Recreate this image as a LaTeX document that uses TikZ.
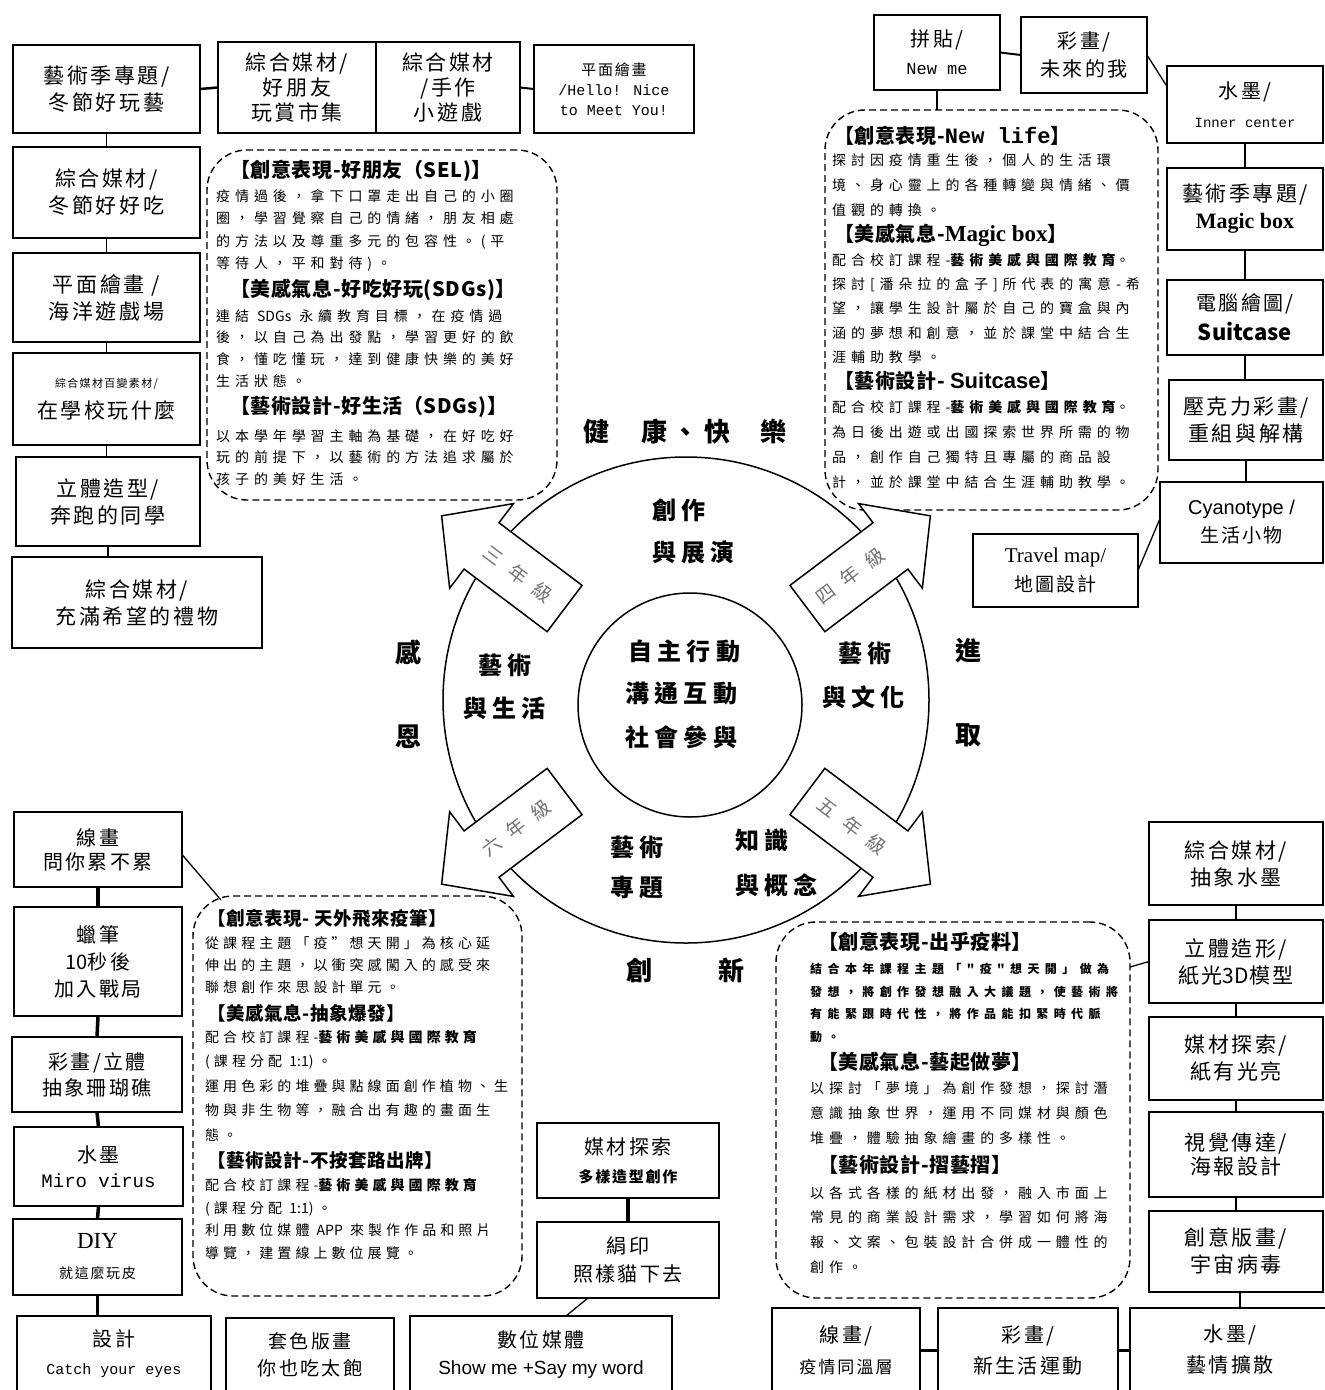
\documentclass[tikz,border=0pt]{standalone}
\usepackage{fontspec}
\setmainfont{Noto Sans CJK TC}
\newfontfamily\boxfnt[LetterSpace=12]{Noto Sans CJK TC}
\newfontfamily\bodyfnt[LetterSpace=35]{Noto Sans CJK TC}
\newfontfamily\bodyfntb[LetterSpace=29]{Noto Sans CJK TC}
\newfontfamily\sbodyfnt[LetterSpace=45]{Noto Sans CJK TC}
\newfontfamily\headfnt[LetterSpace=3]{Noto Sans CJK TC}
\newfontfamily\ringfnt[LetterSpace=22]{Noto Sans CJK TC}
\newfontfamily\gradefnt[LetterSpace=60]{Noto Sans CJK TC}
\newfontfamily\monofnt{Liberation Mono}
\newfontfamily\seriffnt{Liberation Serif}
\newfontfamily\sansfnt{Liberation Sans}
\newcommand\fsz[2]{\fontsize{#1}{#2}\selectfont}
\newcommand\lat[1]{{\rmfamily #1}}
\usetikzlibrary{calc}
\tikzset{
  box/.style={draw, line width=1.5pt, fill=white, inner sep=1pt, outer sep=0pt, align=center, font={\boxfnt\fsz{21}{27}}},
  dbox/.style={draw, line width=1.4pt, dash pattern=on 7pt off 4pt, rounded corners=40pt, inner sep=0pt, outer sep=0pt},
  conn/.style={line width=1.3pt},
  tconn/.style={line width=3.5pt},
  body/.style={anchor=north west, align=left, inner sep=0pt, font={\bodyfnt\fsz{14}{#1}}},
  body/.default=22.5,
  bodyb/.style={anchor=north west, align=left, inner sep=0pt, font={\bodyfntb\fsz{14}{#1}}},
  sbody/.style={anchor=north west, align=left, inner sep=0pt, font={\sbodyfnt\bfseries\fsz{12}{#1}}},
  head/.style={anchor=west, inner sep=0pt, font={\headfnt\bfseries\fsz{20}{24}}},
  bhead/.style={anchor=west, inner sep=0pt, font={\headfnt\bfseries\fsz{18.5}{22}}},
  ringlbl/.style={anchor=west, inner sep=0pt, font={\ringfnt\bfseries\fsz{24}{30}}},
  big/.style={inner sep=0pt, font={\ringfnt\bfseries\fsz{26}{30}}},
  grade/.style={inner sep=0pt, font={\gradefnt\fsz{19}{24}}, text=black!55},
  ringline/.style={line width=1.5pt},
  arrowshape/.style={draw, line width=1.5pt, fill=white, line join=miter},
}
\begin{document}
\begin{tikzpicture}[x=1pt,y=-1pt]
\useasboundingbox (0,0) rectangle (1325,1390);
\fill[white] (0,0) rectangle (1325,1390);

% ---------- top row boxes ----------
\node[box, minimum width=187pt, minimum height=88pt] (A1) at (106.5,89) {藝術季專題/\\冬節好玩藝};
\node[box, minimum width=158pt, minimum height=91pt, font={\boxfnt\fsz{21}{25}}] (A2) at (297,87.5) {綜合媒材/\\好朋友\\玩賞市集};
\node[box, minimum width=144pt, minimum height=91pt, font={\boxfnt\fsz{21}{25}}] (A3) at (448,87.5) {綜合媒材\\/手作\\小遊戲};
\node[box, minimum width=160pt, minimum height=88pt, font={\boxfnt\fsz{15}{20}}] (A4) at (614,89) {平面繪畫\\{\monofnt\fsz{15}{20}/Hello! Nice}\\{\monofnt\fsz{15}{20}to Meet You!}};

% ---------- left column ----------
\node[box, minimum width=187pt, minimum height=91pt] (L1) at (106.5,192.5) {綜合媒材/\\冬節好好吃};
\node[box, minimum width=187pt, minimum height=89pt] (L2) at (106.5,297.5) {平面繪畫 /\\海洋遊戲場};
\node[box, minimum width=187pt, minimum height=92pt] (L3) at (106.5,399) {{\fsz{11}{14}綜合媒材百變素材/}\\[4pt]在學校玩什麼};
\node[box, minimum width=184pt, minimum height=89pt] (L4) at (108,501.5) {立體造型/\\奔跑的同學};
\node[box, minimum width=250pt, minimum height=91pt] (L5) at (137,602.5) {綜合媒材/\\充滿希望的禮物};

% ---------- top right ----------
\node[box, minimum width=126pt, minimum height=75pt, font={\boxfnt\fsz{20}{28}}] (R1) at (937,52.5) {拼貼/\\{\monofnt\fsz{17}{28}New me}};
\node[box, minimum width=126pt, minimum height=76pt, font={\boxfnt\fsz{20}{28}}] (R2) at (1084,55) {彩畫/\\未來的我};
\node[box, minimum width=156pt, minimum height=77pt, font={\boxfnt\fsz{20}{29}}] (R3) at (1245,104.5) {水墨/\\{\monofnt\fsz{14}{29}Inner center}};
\node[box, minimum width=156pt, minimum height=82pt] (R4) at (1245,209) {藝術季專題/\\{\seriffnt\bfseries\fsz{22}{27}Magic box}};
\node[box, minimum width=156pt, minimum height=75pt, font={\boxfnt\fsz{20}{30}}] (R5) at (1245,317.5) {電腦繪圖/\\{\rmfamily\bfseries\fsz{22}{30}Suitcase}};
\node[box, minimum width=154pt, minimum height=80pt] (R6) at (1246,420) {壓克力彩畫/\\重組與解構};
\node[box, minimum width=163pt, minimum height=81pt, font={\boxfnt\fsz{19}{28}}] (R7) at (1241.5,522.5) {{\sansfnt\fsz{20}{28}Cyanotype /}\\生活小物};
\node[box, minimum width=165pt, minimum height=73pt, font={\boxfnt\fsz{19}{29}}] (R8) at (1055.5,570.5) {{\seriffnt\fsz{21}{29}Travel map/}\\地圖設計};

% ---------- bottom left column ----------
\node[box, minimum width=168pt, minimum height=75pt, font={\boxfnt\fsz{20}{24}}] (B1) at (98,849.5) {線畫\\問你累不累};
\node[box, minimum width=168pt, minimum height=109pt, font={\boxfnt\fsz{20}{27}}] (B2) at (98,961.5) {蠟筆\\\lat{10}秒後\\加入戰局};
\node[box, minimum width=170pt, minimum height=75pt, font={\boxfnt\fsz{20}{26}}] (B3) at (97,1074.5) {彩畫/立體\\抽象珊瑚礁};
\node[box, minimum width=169pt, minimum height=79pt, font={\boxfnt\fsz{20}{25}}] (B4) at (98.5,1166.5) {水墨\\{\monofnt\fsz{19}{25}Miro virus}};
\node[box, minimum width=169pt, minimum height=76pt, font={\boxfnt\fsz{14}{30}}] (B5) at (97.5,1257) {{\seriffnt\fsz{23}{30}DIY}\\就這麼玩皮};
\node[box, minimum width=194pt, minimum height=76pt, font={\boxfnt\fsz{20}{28}}] (B6) at (114,1354) {設計\\{\monofnt\fsz{15}{28}Catch your eyes}};

% ---------- bottom row ----------
\node[box, minimum width=168pt, minimum height=74pt, font={\boxfnt\fsz{19}{27}}] (C1) at (310,1355) {套色版畫\\你也吃太飽};
\node[box, minimum width=262pt, minimum height=76pt, font={\boxfnt\fsz{20}{27}}] (C2) at (541,1354) {數位媒體\\{\sansfnt\fsz{19}{27}Show me +Say my word}};
\node[box, minimum width=182pt, minimum height=75pt, font={\boxfnt\fsz{20}{28}}] (C3) at (628,1160.5) {媒材探索\\{\bfseries\fsz{15}{28}多樣造型創作}};
\node[box, minimum width=182pt, minimum height=76pt, font={\boxfnt\fsz{20}{28}}] (C4) at (628,1260) {絹印\\照樣貓下去};
\node[box, minimum width=148pt, minimum height=84pt, font={\boxfnt\fsz{20}{31}}] (D1) at (846,1350) {線畫/\\{\fsz{17}{31}疫情同溫層}};
\node[box, minimum width=180pt, minimum height=84pt, font={\boxfnt\fsz{20}{31}}] (D2) at (1028,1350) {彩畫/\\新生活運動};
\node[box, minimum width=200pt, minimum height=84pt, font={\boxfnt\fsz{20}{31}}] (D3) at (1230,1350) {水墨/\\藝情擴散};

% ---------- bottom right column ----------
\node[box, minimum width=174pt, minimum height=83pt] (E1) at (1236,863.5) {綜合媒材/\\抽象水墨};
\node[box, minimum width=174pt, minimum height=83pt] (E2) at (1236,961.5) {立體造形/\\紙光\lat{3D}模型};
\node[box, minimum width=174pt, minimum height=83pt] (E3) at (1236,1058.5) {媒材探索/\\紙有光亮};
\node[box, minimum width=174pt, minimum height=85pt, font={\boxfnt\fsz{21}{24}}] (E4) at (1236,1154.5) {視覺傳達/\\海報設計};
\node[box, minimum width=174pt, minimum height=81pt] (E5) at (1236,1251.5) {創意版畫/\\宇宙病毒};

% ---------- dashed boxes ----------
\node[dbox, minimum width=350pt, minimum height=350pt] (TL) at (382,325) {};
\node[dbox, minimum width=333pt, minimum height=400pt] (TR) at (991.5,310) {};
\node[dbox, minimum width=329pt, minimum height=400pt] (BL) at (357.5,1096) {};
\node[dbox, minimum width=354pt, minimum height=376pt] (BR) at (953,1110) {};

% TL text
\node[head] (tlh1) at (230,171) {【創意表現-好朋友（SEL)】};
\node[body] (tlb1) at (216,189) {疫情過後，拿下口罩走出自己的小圈\\圈，學習覺察自己的情緒，朋友相處\\的方法以及尊重多元的包容性。(平\\等待人，平和對待)。};
\node[head] (tlh2) at (230,290) {【美感氣息-好吃好玩(SDGs)】};
\node[body=21.7] (tlb2) at (216,309) {連結 \lat{SDGs} 永續教育目標，在疫情過\\後，以自己為出發點，學習更好的飲\\食，懂吃懂玩，達到健康快樂的美好\\生活狀態。};
\node[head] (tlh3) at (230,407) {【藝術設計-好生活（SDGs)】};
\node[body=21.5] (tlb3) at (216,429) {以本學年學習主軸為基礎，在好吃好\\玩的前提下，以藝術的方法追求屬於\\孩子的美好生活。};

% TR text
\node[head] (trh1) at (834,136) {【創意表現-{\monofnt\bfseries\fsz{22}{24}New life}】};
\node[body=25] (trb1) at (832,153) {探討因疫情重生後，個人的生活環\\境、身心靈上的各種轉變與情緒、價\\值觀的轉換。};
\node[head] (trh2) at (834,235) {【美感氣息-{\seriffnt\bfseries\fsz{23}{24}Magic box}】};
\node[body=24.2] (trb2) at (832,253) {配合校訂課程-{\bfseries 藝術美感與國際教育}。\\探討[潘朵拉的盒子]所代表的寓意-希\\望，讓學生設計屬於自己的寶盒與內\\涵的夢想和創意，並於課堂中結合生\\涯輔助教學。};
\node[head] (trh3) at (834,381) {【藝術設計- {\sansfnt\fsz{22}{24}Suitcase}】};
\node[body=25] (trb3) at (832,400) {配合校訂課程-{\bfseries 藝術美感與國際教育}。\\為日後出遊或出國探索世界所需的物\\品，創作自己獨特且專屬的商品設\\計，並於課堂中結合生涯輔助教學。};

% BL text
\node[bhead] (blh1) at (207,918) {【創意表現- 天外飛來疫筆】};
\node[bodyb=22] (blb1) at (205,936) {從課程主題「疫”想天開」為核心延\\伸出的主題，以衝突感闖入的感受來\\聯想創作來思設計單元。};
\node[bhead] (blh2) at (207,1013) {【美感氣息-抽象爆發】};
\node[bodyb=24.5] (blb2) at (205,1030) {配合校訂課程-{\bfseries 藝術美感與國際教育}\\(課程分配 \lat{1:1})。\\運用色彩的堆疊與點線面創作植物、生\\物與非生物等，融合出有趣的畫面生\\態。};
\node[bhead] (blh3) at (207,1160) {【藝術設計-不按套路出牌】};
\node[bodyb=22.7] (blb3) at (205,1178) {配合校訂課程-{\bfseries 藝術美感與國際教育}\\(課程分配 \lat{1:1})。\\利用數位媒體 \lat{APP} 來製作作品和照片\\導覽，建置線上數位展覽。};

% BR text
\node[head] (brh1) at (818,942) {【創意表現-出乎疫料】};
\node[sbody=22.7] (brb1) at (810,963) {結合本年課程主題「"疫"想天開」做為\\發想，將創作發想融入大議題，使藝術將\\有能緊跟時代性，將作品能扣緊時代脈\\動。};
\node[head] (brh2) at (818,1062) {【美感氣息-藝起做夢】};
\node[body=25] (brb2) at (810,1081) {以探討「夢境」為創作發想，探討潛\\意識抽象世界，運用不同媒材與顏色\\堆疊，體驗抽象繪畫的多樣性。};
\node[head] (brh3) at (818,1165) {【藝術設計-摺藝摺】};
\node[body=24.7] (brb3) at (810,1186) {以各式各樣的紙材出發，融入市面上\\常見的商業設計需求，學習如何將海\\報、文案、包裝設計合併成一體性的\\創作。};

% ---------- connectors ----------
\draw[line width=2.5pt] (A1.east) -- (A2.west);
\draw[line width=2pt] (A3.east) -- (A4.west);
\draw[conn] (A1.south) -- (L1.north);
\draw[conn] (L1.south) -- (L2.north);
\draw[conn] (L2.south) -- (L3.north);
\draw[conn] (L3.south) -- (L3.south |- L4.north);
\draw[conn] (L4.south) -- (L4.south |- L5.north);

\draw[line width=2pt] (R1.east) -- (R2.west);
\draw[conn] (R2.east) -- ($(R3.west)+(0,-18)$);
\draw[line width=2pt] (R3.south) -- (R4.north);
\draw[line width=2pt] (R4.south) -- (R5.north);
\draw[line width=2pt] (R5.south) -- (R5.south |- R6.north);
\draw[line width=2pt] (R6.south) -- (R6.south |- R7.north);
\draw[conn] (R8.east) -- ($(R7.west)+(0,-4)$);
\draw[conn] (R1.south) -- (R1.south |- TR.north);

\draw[tconn] (B1.south) -- (B2.north);
\draw[tconn] (B2.south) -- (B3.north);
\draw[tconn] (B3.south) -- (B4.north);
\draw[tconn] (B4.south) -- (B5.north);
\draw[tconn] (B5.south) -- (B5.south |- B6.north);
\draw[conn] ($(B1.east)+(0,5)$) -- ($(BL.north west)+(28,4)$);

\draw[tconn] (C3.south) -- (C4.north);
\draw[conn] ($(C4.south)+(-40,0)$) -- ($(C2.north)+(25,0)$);
\draw[line width=3pt] (D1.east) -- (D2.west);
\draw[line width=3pt] (D2.east) -- (D3.west);
\draw[line width=2pt] ($(D3.north)+(10,0)$) -- ($(E5.south)+(4,0)$);
\draw[line width=2pt] (E1.south) -- (E2.north);
\draw[line width=2pt] (E2.south) -- (E3.north);
\draw[line width=2pt] (E3.south) -- (E4.north);
\draw[line width=2pt] (E4.south) -- (E5.north);
\draw[conn] ($(BR.north east)+(0,45)$) -- ($(E2.west)+(0,0)$);

% ---------- central ring ----------
\draw[ringline] (686,700) circle[radius=243];
\foreach \ang in {143,37,-37,-143}{
  \begin{scope}[shift={(686,700)}, rotate=\ang]
    \draw[arrowshape] (152,-29) -- (256,-29) -- (256,-53) -- (306,0) -- (256,53) -- (256,29) -- (152,29) -- cycle;
  \end{scope}
}
\draw[ringline] (690,705) circle[radius=112];

\node[grade, rotate=-37] (g3) at (518,574) {三年級};
\node[grade, rotate=37] (g4) at (850,576) {四年級};
\node[grade, rotate=-37] (g5) at (852,826) {五年級};
\node[grade, rotate=37] (g6) at (516,828) {六年級};

\node[ringlbl] (r1a) at (652,510) {創作};
\node[ringlbl] (r1b) at (652,552) {與展演};
\node[ringlbl] (r2a) at (478,665) {藝術};
\node[ringlbl] (r2b) at (463,708) {與生活};
\node[ringlbl] (r3a) at (838,653) {藝術};
\node[ringlbl] (r3b) at (822,697) {與文化};
\node[ringlbl] (r4a) at (610,847) {藝術};
\node[ringlbl] (r4b) at (610,887) {專題};
\node[ringlbl] (r5a) at (735,840) {知識};
\node[ringlbl] (r5b) at (735,885) {與概念};
\node[ringlbl] (c1) at (628,651) {自主行動};
\node[ringlbl] (c2) at (625,693) {溝通互動};
\node[ringlbl] (c3) at (625,737) {社會參與};

\node[big, anchor=west] (top) at (583,432) {健\hspace{32pt}康、快\hspace{30pt}樂};
\node[big] (lft1) at (408,652) {感};
\node[big] (lft2) at (408,737) {恩};
\node[big] (rgt1) at (968,651) {進};
\node[big] (rgt2) at (968,735) {取};
\node[big] (bot1) at (639,970) {創};
\node[big] (bot2) at (731,970) {新};
\end{tikzpicture}
\end{document}
